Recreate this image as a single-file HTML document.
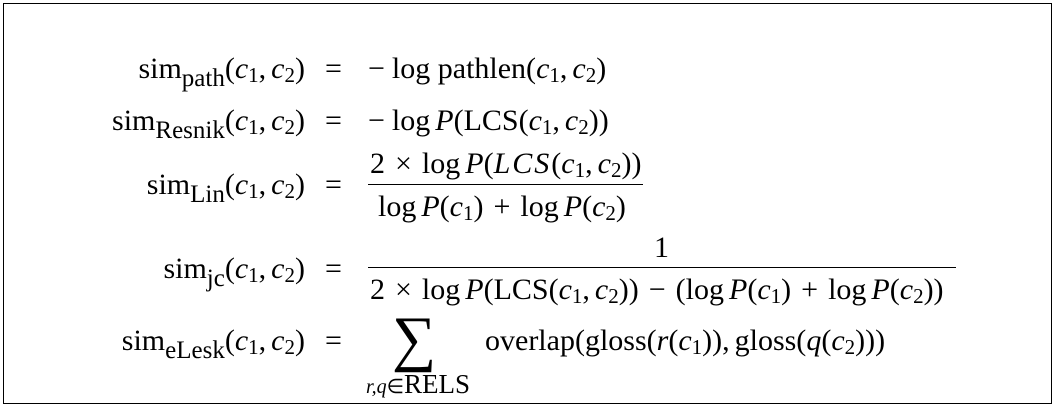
<!DOCTYPE html>
<html><head><meta charset="utf-8"><style>
body{margin:0;background:#fff;width:1055px;height:408px;position:relative;overflow:hidden;font-family:"Liberation Serif",serif;font-size:30px;color:#000}
.box{position:absolute;left:3px;top:3px;width:1047px;height:399px;border:1px solid #000}
.l{position:absolute;right:750px;white-space:nowrap;line-height:1}
.e{position:absolute;left:325px;line-height:1}
.r{position:absolute;white-space:nowrap;line-height:1}
i{font-style:italic}
sub{font-size:25px;vertical-align:-8px;line-height:0}
.s{font-size:21px;vertical-align:-4px}
.c{margin-right:5px}
.o{margin:0 10px}
.g{margin-left:5px}
.fl{position:absolute;height:1.3px;background:#000}
</style></head><body>
<div class="box"></div>

<div class="l" style="top:54px">sim<sub>path</sub>(<i>c</i><span class="s">1</span>,<span class="c"></span><i>c</i><span class="s">2</span>)</div>
<div class="e" style="top:54px">=</div>
<div class="r" style="left:368px;top:54px">−<span style="margin-left:7px"></span>log pathlen(<i>c</i><span class="s">1</span>,<span class="c"></span><i>c</i><span class="s">2</span>)</div>

<div class="l" style="top:106px">sim<sub>Resnik</sub>(<i>c</i><span class="s">1</span>,<span class="c"></span><i>c</i><span class="s">2</span>)</div>
<div class="e" style="top:106px">=</div>
<div class="r" style="left:368px;top:106px">−<span style="margin-left:7px"></span>log<span class="g"></span><i>P</i>(LCS(<i>c</i><span class="s">1</span>,<span class="c"></span><i>c</i><span class="s">2</span>))</div>

<div class="l" style="top:170px">sim<sub>Lin</sub>(<i>c</i><span class="s">1</span>,<span class="c"></span><i>c</i><span class="s">2</span>)</div>
<div class="e" style="top:170px">=</div>
<div class="r" style="left:370px;top:149px">2<span class="o">×</span>log<span class="g"></span><i>P</i>(<i style="letter-spacing:2px">LCS</i>(<i>c</i><span class="s">1</span>,<span class="c"></span><i>c</i><span class="s">2</span>))</div>
<div class="fl" style="left:368px;top:184px;width:275px"></div>
<div class="r" style="left:378px;top:192px">log<span class="g"></span><i>P</i>(<i>c</i><span class="s">1</span>)<span class="o">+</span>log<span class="g"></span><i>P</i>(<i>c</i><span class="s">2</span>)</div>

<div class="l" style="top:254px">sim<sub>jc</sub>(<i>c</i><span class="s">1</span>,<span class="c"></span><i>c</i><span class="s">2</span>)</div>
<div class="e" style="top:254px">=</div>
<div class="r" style="left:654px;top:233px">1</div>
<div class="fl" style="left:368px;top:267px;width:588px"></div>
<div class="r" style="left:370px;top:275px">2<span class="o">×</span>log<span class="g"></span><i>P</i>(LCS(<i>c</i><span class="s">1</span>,<span class="c"></span><i>c</i><span class="s">2</span>))<span class="o">−</span>(log<span class="g"></span><i>P</i>(<i>c</i><span class="s">1</span>)<span class="o">+</span>log<span class="g"></span><i>P</i>(<i>c</i><span class="s">2</span>))</div>

<div class="l" style="top:326px">sim<sub>eLesk</sub>(<i>c</i><span class="s">1</span>,<span class="c"></span><i>c</i><span class="s">2</span>)</div>
<div class="e" style="top:326px">=</div>
<div class="r" style="left:392px;top:308px;font-size:62px">∑</div>
<div class="r" style="left:485px;top:326px">overlap(gloss(<i>r</i>(<i>c</i><span class="s">1</span>)),<span class="c"></span>gloss(<i>q</i>(<i>c</i><span class="s">2</span>)))</div>
<div class="r" style="left:366px;top:371px;font-size:27px"><i style="font-size:20px">r,q</i><span style="font-size:20px">∈</span>RELS</div>
</body></html>
